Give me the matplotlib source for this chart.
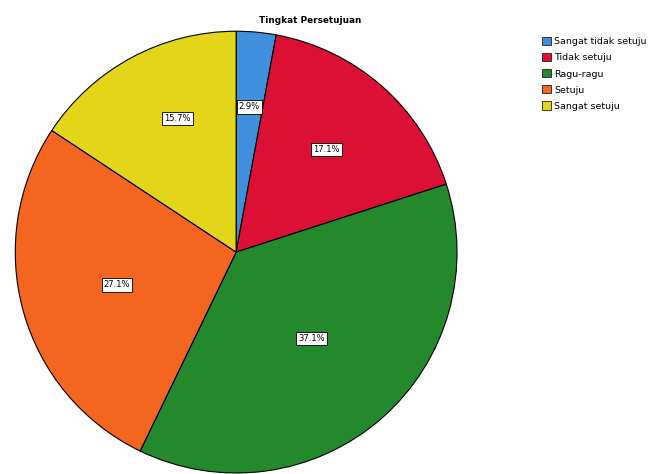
import numpy as np
import matplotlib
matplotlib.use('Agg')
import matplotlib.pyplot as plt

labels = ['Sangat tidak setuju', 'Tidak setuju', 'Ragu-ragu', 'Setuju', 'Sangat setuju']
values = [2.9, 17.1, 37.1, 27.1, 15.7]
colors = ['#3f8fdc', '#dc0f35', '#24892c', '#f4661f', '#e3d51a']
# label placement (radius fraction, angle shift in degrees)
label_r = [0.66, 0.62, 0.52, 0.56, 0.66]
label_shift = [0, 0, 0, 0, -4.5]

fig = plt.figure(figsize=(6.65, 4.74), dpi=100)
ax = fig.add_axes([0.0226, 0.0021, 0.665, 0.932])

wedges, _ = ax.pie(values, colors=colors, startangle=90, counterclock=False,
                   wedgeprops=dict(edgecolor='black', linewidth=0.8))
ax.set_aspect('equal')
ax.set_xlim(-1.0, 1.0)
ax.set_ylim(-1.0, 1.0)

for w, v, r, s in zip(wedges, values, label_r, label_shift):
    ang = np.deg2rad((w.theta1 + w.theta2) / 2 + s)
    ax.text(r * np.cos(ang), r * np.sin(ang), '{:.1f}%'.format(v),
            ha='center', va='center', fontsize=6, color='black',
            bbox=dict(boxstyle='square,pad=0.25', fc='white', ec='black', lw=0.6))

fig.text(0.466, 0.957, 'Tingkat Persetujuan', ha='center', va='center',
         fontsize=6.4, fontweight='bold')

leg = fig.legend(wedges, labels, loc='upper left', bbox_to_anchor=(0.81, 0.93),
                 frameon=False, fontsize=6.8, handlelength=0.95, handleheight=0.95,
                 handletextpad=0.3, labelspacing=0.72, borderaxespad=0)
for h in leg.legend_handles:
    h.set_linewidth(0.5)

plt.savefig('out.png', dpi=100)
